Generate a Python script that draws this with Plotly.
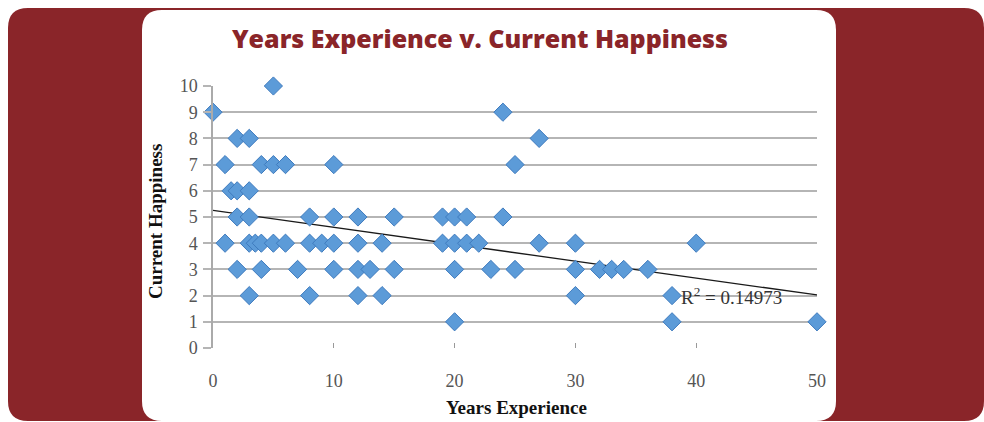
import plotly.graph_objects as go

# ---- data ----
years = [0, 5, 2, 3, 1, 4, 5, 6, 10, 1.5, 2, 3,
         2, 3, 8, 10, 12, 15, 19, 20, 21, 24,
         1, 3, 3.5, 4, 5, 6, 8, 9, 10, 12, 14, 19, 20, 21, 22, 27, 30, 40,
         2, 4, 7, 10, 12, 13, 15, 20, 23, 25, 30, 32, 33, 34, 36,
         3, 8, 12, 14, 30, 38,
         20, 38, 50,
         24, 27, 25]
happiness = [9, 10, 8, 8, 7, 7, 7, 7, 7, 6, 6, 6,
             5, 5, 5, 5, 5, 5, 5, 5, 5, 5,
             4, 4, 4, 4, 4, 4, 4, 4, 4, 4, 4, 4, 4, 4, 4, 4, 4, 4,
             3, 3, 3, 3, 3, 3, 3, 3, 3, 3, 3, 3, 3, 3, 3,
             2, 2, 2, 2, 2, 2,
             1, 1, 1,
             9, 8, 7]
trend_x = [0, 50]
trend_intercept = 5.25
trend_slope = -0.0645
r2_text = "R<sup>2</sup> = 0.14973"
x_ticks = [0, 10, 20, 30, 40, 50]
y_ticks = list(range(0, 11))

RED = "#8A2529"
W, H = 984, 422
L, R, T, B = 213, 817, 86, 348  # plot area in pixels


def px2paper(px, py):
    return (px - L) / (R - L), (B - py) / (B - T)


def rounded_rect(x0, y0, x1, y1, r):
    pts = [
        ("M", [(x0 + r, y0)]),
        ("L", [(x1 - r, y0)]),
        ("Q", [(x1, y0), (x1, y0 + r)]),
        ("L", [(x1, y1 - r)]),
        ("Q", [(x1, y1), (x1 - r, y1)]),
        ("L", [(x0 + r, y1)]),
        ("Q", [(x0, y1), (x0, y1 - r)]),
        ("L", [(x0, y0 + r)]),
        ("Q", [(x0, y0), (x0 + r, y0)]),
    ]
    s = ""
    for cmd, ps in pts:
        s += cmd + " " + " ".join("%.5f,%.5f" % px2paper(*p) for p in ps) + " "
    return s + "Z"


trend_y = [trend_intercept + trend_slope * x for x in trend_x]

fig = go.Figure()
fig.add_trace(go.Scatter(
    x=trend_x, y=trend_y, mode="lines", cliponaxis=False,
    line=dict(color="#1a1a1a", width=1.3), hoverinfo="skip", showlegend=False))
fig.add_trace(go.Scatter(
    x=years, y=happiness, mode="markers", cliponaxis=False,
    marker=dict(symbol="diamond", size=14, color="#5C9BD8",
                line=dict(color="#3F7BBE", width=1)),
    showlegend=False))

shapes = [
    dict(type="path", xref="paper", yref="paper", layer="below",
         path=rounded_rect(8, 8, 984, 421, 20), fillcolor=RED, line=dict(width=0)),
    dict(type="path", xref="paper", yref="paper", layer="below",
         path=rounded_rect(142, 10, 836, 421, 20), fillcolor="white", line=dict(width=0)),
]

serif = "Liberation Serif, Times New Roman, serif"
annotations = [
    dict(text="Years Experience v. Current Happiness", xref="paper", yref="paper",
         x=px2paper(480, 38)[0], y=px2paper(480, 38)[1], xanchor="center", yanchor="middle",
         showarrow=False, font=dict(family="Open Sans, sans-serif", size=25, color=RED, weight=800)),
    dict(text="<b>Current Happiness</b>", xref="paper", yref="paper", textangle=-90,
         x=px2paper(155, 222)[0], y=px2paper(155, 222)[1], xanchor="center", yanchor="middle",
         showarrow=False, font=dict(family=serif, size=19, color="#111")),
    dict(text="<b>Years Experience</b>", xref="paper", yref="paper",
         x=px2paper(516, 407)[0], y=px2paper(516, 407)[1], xanchor="center", yanchor="middle",
         showarrow=False, font=dict(family=serif, size=19, color="#111")),
    dict(text=r2_text, xref="x", yref="y", x=38.6, y=2.0, xanchor="left", yanchor="middle",
         showarrow=False, font=dict(family=serif, size=19, color="#333")),
]

fig.update_layout(
    width=W, height=H,
    margin=dict(l=L, r=W - R, t=T, b=H - B, pad=0),
    paper_bgcolor="white", plot_bgcolor="rgba(0,0,0,0)",
    shapes=shapes, annotations=annotations, showlegend=False,
    xaxis=dict(range=[0, 50], tickvals=x_ticks, showgrid=False, zeroline=False,
               showline=False, ticks="inside", ticklen=5, tickcolor="#999", tickwidth=1,
               tickfont=dict(family=serif, size=18, color="#555"), ticklabelstandoff=20),
    yaxis=dict(range=[0, 10], tickvals=y_ticks, showgrid=True, gridcolor="#b5b5b5",
               gridwidth=1.5, zeroline=False, showline=True, linecolor="#aaa", linewidth=1.5,
               ticks="outside", ticklen=8, tickcolor="#b5b5b5", tickwidth=1.5,
               tickfont=dict(family=serif, size=18, color="#555"), ticklabelstandoff=2),
)

fig.write_html("out.html", config={"displayModeBar": False},
               post_script="document.body.style.margin='0';")
